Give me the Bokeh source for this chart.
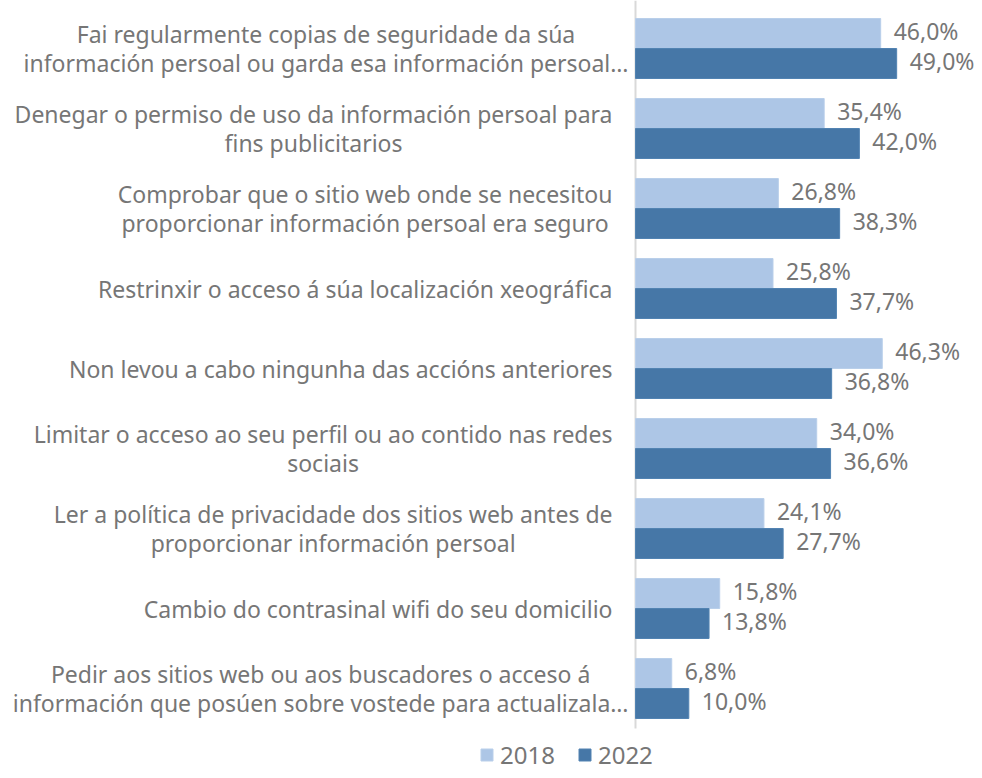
from bokeh.plotting import figure
from bokeh.models import ColumnDataSource, Range1d, Legend, LegendItem
from bokeh.transform import dodge
from bokeh.core.properties import value
from bokeh.embed import file_html
from bokeh.resources import INLINE

categories = [
    "Fai regularmente copias de seguridade da súa\ninformación persoal ou garda esa información persoal…",
    "Denegar o permiso de uso da información persoal para\nfins publicitarios",
    "Comprobar que o sitio web onde se necesitou\nproporcionar información persoal era seguro",
    "Restrinxir o acceso á súa localización xeográfica",
    "Non levou a cabo ningunha das accións anteriores",
    "Limitar o acceso ao seu perfil ou ao contido nas redes\nsociais",
    "Ler a política de privacidade dos sitios web antes de\nproporcionar información persoal",
    "Cambio do contrasinal wifi do seu domicilio",
    "Pedir aos sitios web ou aos buscadores o acceso á\ninformación que posúen sobre vostede para actualizala…",
]
values_2018 = [46.0, 35.4, 26.8, 25.8, 46.3, 34.0, 24.1, 15.8, 6.8]
values_2022 = [49.0, 42.0, 38.3, 37.7, 36.8, 36.6, 27.7, 13.8, 10.0]
series = ["2018", "2022"]
colors = ["#adc6e6", "#4677a7"]

FONT = "Noto Sans"
GREY = "#767676"

W, H = 974, 770
AXIS_PX = 635          # screen x of the zero line
PX_PER_UNIT = 5.33     # screen px per percentage point
ROW_PX = 80            # screen px per category row
TOP_PX = 8             # space above the first row
N = len(categories)
BOTTOM_PX = H - TOP_PX - ROW_PX * N


def fmt(v):
    return f"{v:.1f}".replace(".", ",") + "%"


source = ColumnDataSource(dict(
    cat=categories,
    idx=list(range(N)),
    v2018=values_2018,
    v2022=values_2022,
    l2018=[fmt(v) for v in values_2018],
    l2022=[fmt(v) for v in values_2022],
    zero=[0] * N,
    loff=[-7 if "…" in c else -23 for c in categories],
))

y_top = -0.5 - TOP_PX / ROW_PX
y_bottom = N - 0.5 + BOTTOM_PX / ROW_PX

p = figure(
    width=W, height=H,
    y_range=Range1d(y_bottom, y_top),
    x_range=Range1d(-AXIS_PX / PX_PER_UNIT, (W - AXIS_PX) / PX_PER_UNIT),
    output_backend="svg", toolbar_location=None,
    min_border_left=0, min_border_right=0, min_border_top=0, min_border_bottom=0,
)
p.xaxis.visible = False
p.yaxis.visible = False
p.xgrid.visible = False
p.ygrid.visible = False
p.outline_line_color = None

# category axis line (zero line) limited to the rows
p.segment(x0=[0], x1=[0], y0=[y_top], y1=[N - 0.5], line_color="#d9d9d9", line_width=2)

bar_h = 0.375
y18 = dodge("idx", -bar_h / 2)
y22 = dodge("idx", bar_h / 2)
r1 = p.hbar(y=y18, right="v2018", left=0, height=bar_h,
            source=source, fill_color=colors[0], line_color="#b9cfea")
r2 = p.hbar(y=y22, right="v2022", left=0, height=bar_h,
            source=source, fill_color=colors[1], line_color="#5283b2")

p.text(x="v2018", y=y18, text="l2018", source=source,
       x_offset=13, y_offset=-3, text_baseline="middle", text_align="left",
       text_font=value(FONT), text_font_size="23px", text_color=GREY)
p.text(x="v2022", y=y22, text="l2022", source=source,
       x_offset=13, y_offset=-3, text_baseline="middle", text_align="left",
       text_font=value(FONT), text_font_size="23px", text_color=GREY)

p.text(x="zero", y="idx", text="cat", source=source,
       x_offset="loff", anchor="center_right", text_align="center", text_baseline="middle",
       text_font=value(FONT), text_font_size="23px", text_color=GREY,
       text_line_height=0.93)

legend = Legend(
    items=[LegendItem(label=series[0], renderers=[r1]), LegendItem(label=series[1], renderers=[r2])],
    orientation="horizontal", location=(479, -1),
    glyph_width=15, glyph_height=15, label_standoff=6, spacing=22, padding=0,
    border_line_color=None, background_fill_alpha=0,
    label_text_font=FONT, label_text_font_size="24px", label_text_color=GREY,
)
p.add_layout(legend, "center")

open("out.html", "w").write(file_html(p, INLINE))
